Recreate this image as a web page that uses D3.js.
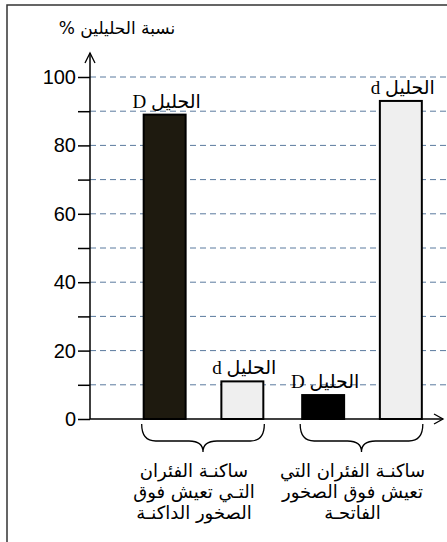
<!DOCTYPE html>
<html><head><meta charset="utf-8">
<script src="https://cdn.jsdelivr.net/npm/d3@7"></script>
<style>body{margin:0;background:#fff}svg{display:block}</style>
</head><body>
<svg id="c" width="447" height="542"></svg>
<script>
const groups = ["dark", "light"];
const alleles = ["D", "d"];
const valuesDark = [89, 11];
const valuesLight = [7, 93];
const barLabels = ["الحليل D", "الحليل d"];
const groupLabels = [
  ["ساكنـة الفئران", "التـي تعيش فوق", "الصخور  الداكنـة"],
  ["ساكنـة الفئران التي", "تعيش فوق الصخور", "الفاتحـة"]
];
const majorTicks = [0, 20, 40, 60, 80, 100];
const minorTicks = [10, 30, 50, 70, 90];
const yTitle = "نسبة الحليلين %";

const svg = d3.select("#c");
const axisX = 90;
const y = d3.scaleLinear().domain([0, 100]).range([419, 77]);
const gx = d3.scaleBand().domain(groups).range([124.25, 441.25]);
const ix = d3.scaleBand().domain(alleles).range([0, gx.bandwidth()]).paddingInner(0.46).paddingOuter(0.25);

// frame
svg.append("rect").attr("x", 7).attr("y", 5).attr("width", 445).attr("height", 545)
  .attr("fill", "none").attr("stroke", "#333").attr("stroke-width", 1.5);

// gridlines
svg.append("g").selectAll("line").data(majorTicks.concat(minorTicks).filter(v => v > 0))
  .join("line")
  .attr("x1", axisX).attr("x2", 447)
  .attr("y1", d => y(d)).attr("y2", d => y(d))
  .attr("stroke", "#5a7a9e").attr("stroke-width", 1).attr("stroke-dasharray", "6,4");

// y axis
const yAxis = d3.axisLeft(y).tickValues(majorTicks.concat(minorTicks))
  .tickFormat(d => majorTicks.includes(d) ? d : "").tickSize(12).tickPadding(2);
const ya = svg.append("g").attr("transform", `translate(${axisX},0)`).call(yAxis);
ya.select(".domain").remove();
ya.selectAll(".tick line").attr("stroke", "#000").attr("stroke-width", 1.5);
ya.selectAll(".tick text").attr("font-family", "Liberation Sans, Arial, sans-serif")
  .attr("font-size", 20).attr("fill", "#000");

// axis lines with arrows
svg.append("line").attr("x1", axisX).attr("x2", axisX).attr("y1", y(0)).attr("y2", 53)
  .attr("stroke", "#000").attr("stroke-width", 1.5);
svg.append("path").attr("d", `M${axisX-5},63 L${axisX},53 L${axisX+5},63`)
  .attr("fill", "none").attr("stroke", "#000").attr("stroke-width", 1.3);
svg.append("line").attr("x1", axisX).attr("x2", 443).attr("y1", y(0)).attr("y2", y(0))
  .attr("stroke", "#000").attr("stroke-width", 1.5);
svg.append("path").attr("d", `M434,${y(0)-5} L443,${y(0)} L434,${y(0)+5}`)
  .attr("fill", "none").attr("stroke", "#000").attr("stroke-width", 1.3);

// y title
svg.append("text").attr("x", 117).attr("y", 34).attr("text-anchor", "middle")
  .attr("direction", "rtl").attr("font-family", "DejaVu Sans, sans-serif").attr("font-size", 17)
  .text(yTitle);

// bars
const fills = {dark: {D: "#1e1a0f", d: "#efefef"}, light: {D: "#000", d: "#efefef"}};
const data = [];
groups.forEach((g, gi) => {
  const vals = gi === 0 ? valuesDark : valuesLight;
  alleles.forEach((a, ai) => data.push({g, a, v: vals[ai], label: barLabels[ai]}));
});
svg.append("g").selectAll("rect").data(data).join("rect")
  .attr("x", d => gx(d.g) + ix(d.a))
  .attr("width", ix.bandwidth())
  .attr("y", d => y(d.v))
  .attr("height", d => y(0) - y(d.v))
  .attr("fill", d => fills[d.g][d.a])
  .attr("stroke", "#000").attr("stroke-width", 2);

svg.append("g").selectAll("text").data(data).join("text")
  .attr("x", d => gx(d.g) + ix(d.a) + ix.bandwidth() / 2 + 2)
  .attr("y", d => y(d.v) - 7)
  .attr("text-anchor", "middle").attr("direction", "rtl")
  .attr("font-family", "Liberation Serif, Times New Roman, DejaVu Sans, serif").attr("font-size", 19)
  .text(d => d.label);

// braces
groups.forEach((g, gi) => {
  const x0 = gx(g) + ix("D") - 2, x1 = gx(g) + ix("d") + ix.bandwidth() + 1;
  const cx = (x0 + x1) / 2, y0 = 424, y1 = 441, y2 = 452, r = 14;
  const p = `M${x0},${y0} Q${x0},${y1} ${x0+r},${y1} L${cx-r},${y1} Q${cx},${y1} ${cx},${y2} Q${cx},${y1} ${cx+r},${y1} L${x1-r},${y1} Q${x1},${y1} ${x1},${y0}`;
  svg.append("path").attr("d", p).attr("fill", "none").attr("stroke", "#000").attr("stroke-width", 1.3);
  const t = svg.append("text").attr("text-anchor", "middle").attr("direction", "rtl")
    .attr("font-family", "DejaVu Sans, sans-serif").attr("font-size", 18);
  groupLabels[gi].forEach((line, li) => {
    t.append("tspan").attr("x", cx - 9).attr("y", 477 + li * 21).text(line);
  });
});
</script>
</body></html>
